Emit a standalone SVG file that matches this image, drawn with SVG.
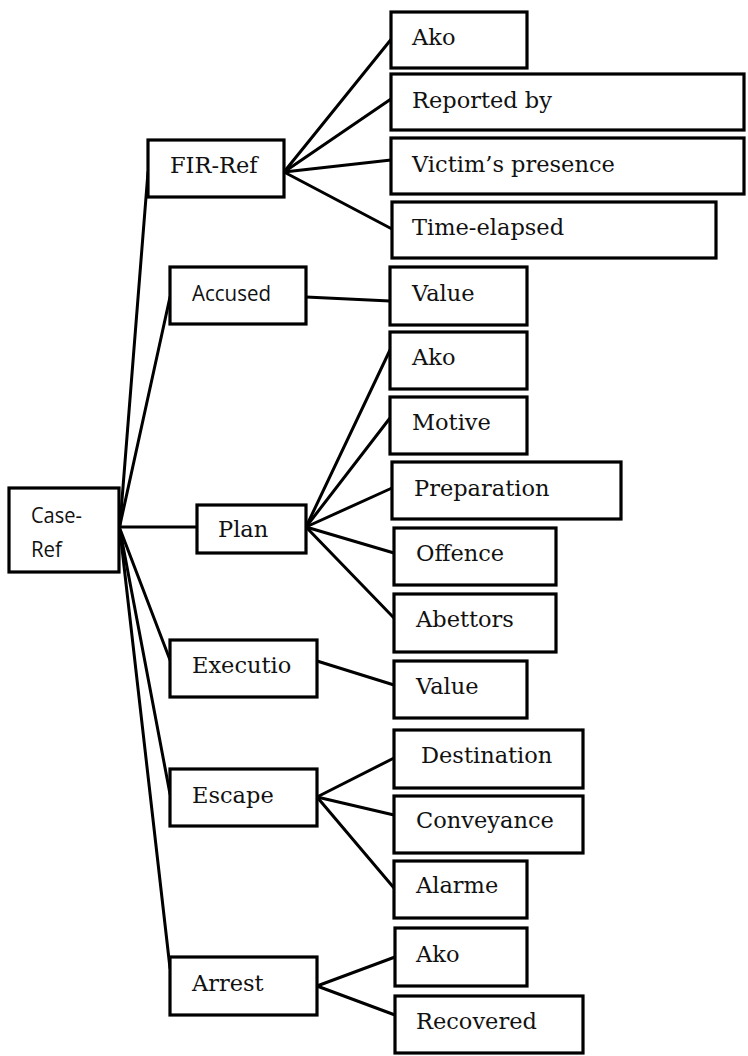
<svg xmlns="http://www.w3.org/2000/svg" width="748" height="1056" viewBox="0 0 748 1056">
  <style>
    .box { fill: #ffffff; stroke: #000000; stroke-width: 3.2; }
    .link { stroke: #000000; stroke-width: 3; fill: none; stroke-linecap: round; }
    .lbl { font-family: "DejaVu Serif", "Liberation Serif", serif; font-size: 22.5px; fill: #111111; }
    .sans { font-family: "Open Sans", "Liberation Sans", sans-serif; font-size: 22px; fill: #111111; }
  </style>
  <rect width="748" height="1056" fill="#ffffff"/>

  <!-- connectors -->
  <g id="connectors">
    <!-- root to first level -->
    <line class="link" x1="120" y1="525" x2="148" y2="172"/>
    <line class="link" x1="120" y1="525" x2="170" y2="297"/>
    <line class="link" x1="120" y1="527" x2="197" y2="527"/>
    <line class="link" x1="120" y1="529" x2="170" y2="660"/>
    <line class="link" x1="120" y1="530" x2="170" y2="794"/>
    <line class="link" x1="120" y1="531" x2="170" y2="968"/>
    <!-- FIR-Ref -->
    <line class="link" x1="284" y1="172" x2="393" y2="37"/>
    <line class="link" x1="284" y1="172" x2="391" y2="99"/>
    <line class="link" x1="284" y1="172" x2="391" y2="160"/>
    <line class="link" x1="284" y1="172" x2="392" y2="229"/>
    <!-- Accused -->
    <line class="link" x1="306" y1="297" x2="390" y2="301"/>
    <!-- Plan -->
    <line class="link" x1="306" y1="527" x2="390" y2="350"/>
    <line class="link" x1="306" y1="527" x2="390" y2="418"/>
    <line class="link" x1="306" y1="527" x2="392" y2="488"/>
    <line class="link" x1="306" y1="527" x2="394" y2="553"/>
    <line class="link" x1="306" y1="527" x2="394" y2="618"/>
    <!-- Executio -->
    <line class="link" x1="317" y1="661" x2="394" y2="685"/>
    <!-- Escape -->
    <line class="link" x1="317" y1="797" x2="394" y2="758"/>
    <line class="link" x1="317" y1="797" x2="394" y2="815"/>
    <line class="link" x1="317" y1="797" x2="394" y2="888"/>
    <!-- Arrest -->
    <line class="link" x1="317" y1="986" x2="395" y2="957"/>
    <line class="link" x1="317" y1="986" x2="395" y2="1015"/>
  </g>

  <!-- root -->
  <g id="case-ref">
    <rect class="box" x="9" y="488" width="110" height="84"/>
    <text class="sans" x="31" y="523" textLength="51" lengthAdjust="spacingAndGlyphs">Case-</text>
    <text class="sans" x="31" y="557" textLength="31" lengthAdjust="spacingAndGlyphs">Ref</text>
  </g>

  <!-- first level -->
  <g id="fir-ref">
    <rect class="box" x="148" y="140" width="136" height="57"/>
    <text class="lbl" x="170" y="173">FIR-Ref</text>
  </g>
  <g id="accused">
    <rect class="box" x="170" y="267" width="136" height="57"/>
    <text class="sans" x="192" y="301" textLength="79" lengthAdjust="spacingAndGlyphs">Accused</text>
  </g>
  <g id="plan">
    <rect class="box" x="197" y="505" width="109" height="48"/>
    <text class="lbl" x="218" y="537">Plan</text>
  </g>
  <g id="executio">
    <rect class="box" x="170" y="640" width="147" height="57"/>
    <text class="lbl" x="192" y="673">Executio</text>
  </g>
  <g id="escape">
    <rect class="box" x="170" y="769" width="147" height="57"/>
    <text class="lbl" x="192" y="803">Escape</text>
  </g>
  <g id="arrest">
    <rect class="box" x="170" y="957" width="147" height="58"/>
    <text class="lbl" x="192" y="991">Arrest</text>
  </g>

  <!-- FIR-Ref children -->
  <g id="fir-ako">
    <rect class="box" x="391" y="12" width="136" height="56"/>
    <text class="lbl" x="412" y="45">Ako</text>
  </g>
  <g id="fir-reported">
    <rect class="box" x="391" y="74" width="353" height="56"/>
    <text class="lbl" x="412" y="108">Reported by</text>
  </g>
  <g id="fir-victim">
    <rect class="box" x="391" y="138" width="353" height="56"/>
    <text class="lbl" x="412" y="172">Victim’s presence</text>
  </g>
  <g id="fir-time">
    <rect class="box" x="392" y="202" width="324" height="56"/>
    <text class="lbl" x="412" y="235">Time-elapsed</text>
  </g>

  <!-- Accused child -->
  <g id="accused-value">
    <rect class="box" x="390" y="267" width="137" height="58"/>
    <text class="lbl" x="412" y="301">Value</text>
  </g>

  <!-- Plan children -->
  <g id="plan-ako">
    <rect class="box" x="390" y="332" width="137" height="57"/>
    <text class="lbl" x="412" y="365">Ako</text>
  </g>
  <g id="plan-motive">
    <rect class="box" x="390" y="397" width="137" height="57"/>
    <text class="lbl" x="412" y="430">Motive</text>
  </g>
  <g id="plan-preparation">
    <rect class="box" x="392" y="462" width="229" height="57"/>
    <text class="lbl" x="414" y="496">Preparation</text>
  </g>
  <g id="plan-offence">
    <rect class="box" x="394" y="528" width="162" height="57"/>
    <text class="lbl" x="416" y="561">Offence</text>
  </g>
  <g id="plan-abettors">
    <rect class="box" x="394" y="594" width="162" height="58"/>
    <text class="lbl" x="416" y="627">Abettors</text>
  </g>

  <!-- Executio child -->
  <g id="executio-value">
    <rect class="box" x="394" y="661" width="133" height="57"/>
    <text class="lbl" x="416" y="694">Value</text>
  </g>

  <!-- Escape children -->
  <g id="escape-destination">
    <rect class="box" x="394" y="730" width="189" height="58"/>
    <text class="lbl" x="421" y="763">Destination</text>
  </g>
  <g id="escape-conveyance">
    <rect class="box" x="394" y="796" width="189" height="57"/>
    <text class="lbl" x="416" y="828">Conveyance</text>
  </g>
  <g id="escape-alarme">
    <rect class="box" x="394" y="861" width="133" height="57"/>
    <text class="lbl" x="416" y="893">Alarme</text>
  </g>

  <!-- Arrest children -->
  <g id="arrest-ako">
    <rect class="box" x="395" y="928" width="132" height="58"/>
    <text class="lbl" x="416" y="962">Ako</text>
  </g>
  <g id="arrest-recovered">
    <rect class="box" x="395" y="996" width="188" height="57"/>
    <text class="lbl" x="416" y="1029">Recovered</text>
  </g>
</svg>
